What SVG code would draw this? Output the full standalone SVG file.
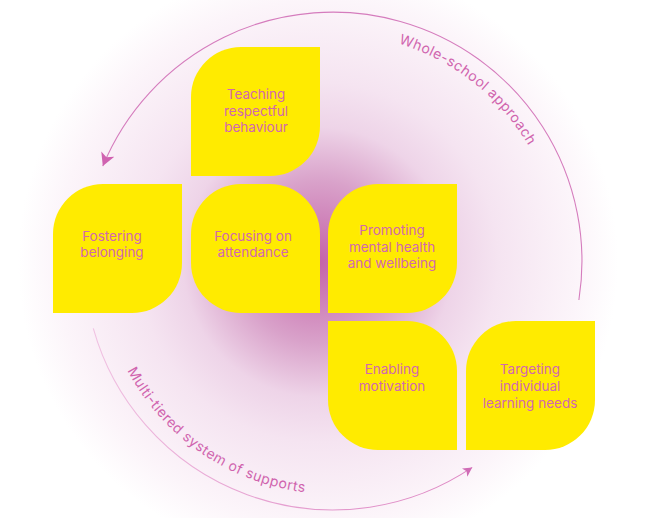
<svg xmlns="http://www.w3.org/2000/svg" width="645" height="518" viewBox="0 0 645 518">
  <style>
    .tile { fill: #FFEB00; }
    .lbl { font-family: Inter, "Noto Sans", "Liberation Sans", sans-serif; font-size: 13.5px; fill: #D268B0; text-anchor: middle; }
    .arcTxt { font-family: Inter, "Noto Sans", "Liberation Sans", sans-serif; font-size: 14px; fill: #D064AE; letter-spacing: 0.5px; }
    .arc { fill: none; stroke-width: 1.1; }
  </style>
  <defs>
    <radialGradient id="bg" gradientUnits="userSpaceOnUse" cx="318" cy="262" r="300">
      <stop offset="0" stop-color="#C462A8"/>
      <stop offset="0.27" stop-color="#D9A2CA"/>
      <stop offset="0.45" stop-color="#EED4E8"/>
      <stop offset="0.6" stop-color="#F5E4F1"/>
      <stop offset="0.87" stop-color="#FCF5FA"/>
      <stop offset="1" stop-color="#FFFFFF"/>
    </radialGradient>
    <linearGradient id="botStroke" gradientUnits="userSpaceOnUse" x1="95" y1="328" x2="472" y2="467">
      <stop offset="0" stop-color="#F0C2E2"/>
      <stop offset="1" stop-color="#DE88C4"/>
    </linearGradient>
    <marker id="arrowBig" viewBox="0 0 14 14" markerUnits="userSpaceOnUse" markerWidth="14" markerHeight="14" refX="13" refY="7" orient="auto">
      <path d="M0,0 L13,7 L0,14 L3.5,7 Z" fill="#D062B0"/>
    </marker>
    <marker id="arrowSmall" viewBox="0 0 14 14" markerUnits="userSpaceOnUse" markerWidth="10" markerHeight="10" refX="13" refY="7" orient="auto">
      <path d="M0,0 L13,7 L0,14 L3.5,7 Z" fill="#D06CB6"/>
    </marker>
    <path id="topTextPath" d="M398.5,43.5 A227 227 0 0 1 546.3,183.4"/>
    <path id="botTextPath" d="M127.3,370.4 A233 233 0 0 0 353.3,493.1"/>
  </defs>

  <rect id="background" x="0" y="0" width="645" height="518" fill="url(#bg)"/>

  <g id="connectors">
    <path class="arc" stroke="#D57CBD" d="M578.9,300 A249 249 0 0 0 102.8,166.1" marker-end="url(#arrowBig)"/>
    <path class="arc" stroke="url(#botStroke)" d="M93.3,328.4 A249 249 0 0 0 472.2,467.4" marker-end="url(#arrowSmall)"/>
    <text class="arcTxt"><textPath href="#topTextPath">Whole-school approach</textPath></text>
    <text class="arcTxt"><textPath href="#botTextPath">Multi-tiered system of supports</textPath></text>
  </g>

  <g id="node-teaching">
    <path class="tile" d="M191,97 A50,50 0 0 1 241,47 H320 V126 A50,50 0 0 1 270,176 H191 Z"/>
    <text class="lbl" x="256" y="99">Teaching</text>
    <text class="lbl" x="256" y="115.5">respectful</text>
    <text class="lbl" x="256" y="132">behaviour</text>
  </g>
  <g id="node-fostering">
    <path class="tile" d="M53,234 A50 50 0 0 1 103,184 H182 V263 A50 50 0 0 1 132,313 H53 Z"/>
    <text class="lbl" x="112" y="241">Fostering</text>
    <text class="lbl" x="112" y="257">belonging</text>
  </g>
  <g id="node-focusing">
    <path class="tile" d="M191,234 A50 50 0 0 1 241,184 H270 A50 50 0 0 1 320,234 V313 H241 A50 50 0 0 1 191,263 Z"/>
    <text class="lbl" x="253" y="241">Focusing on</text>
    <text class="lbl" x="253" y="257">attendance</text>
  </g>
  <g id="node-promoting">
    <path class="tile" d="M328,234 A50 50 0 0 1 378,184 H457 V263 A50 50 0 0 1 407,313 H328 Z"/>
    <text class="lbl" x="392" y="235">Promoting</text>
    <text class="lbl" x="392" y="252">mental health</text>
    <text class="lbl" x="392" y="268">and wellbeing</text>
  </g>
  <g id="node-enabling">
    <path class="tile" d="M328,321 H407 A50 50 0 0 1 457,371 V450 H378 A50 50 0 0 1 328,400 Z"/>
    <text class="lbl" x="392" y="374">Enabling</text>
    <text class="lbl" x="392" y="391">motivation</text>
  </g>
  <g id="node-targeting">
    <path class="tile" d="M466,371 A50 50 0 0 1 516,321 H595 V400 A50 50 0 0 1 545,450 H466 Z"/>
    <text class="lbl" x="530" y="374">Targeting</text>
    <text class="lbl" x="530" y="391">individual</text>
    <text class="lbl" x="530" y="408">learning needs</text>
  </g>
</svg>
